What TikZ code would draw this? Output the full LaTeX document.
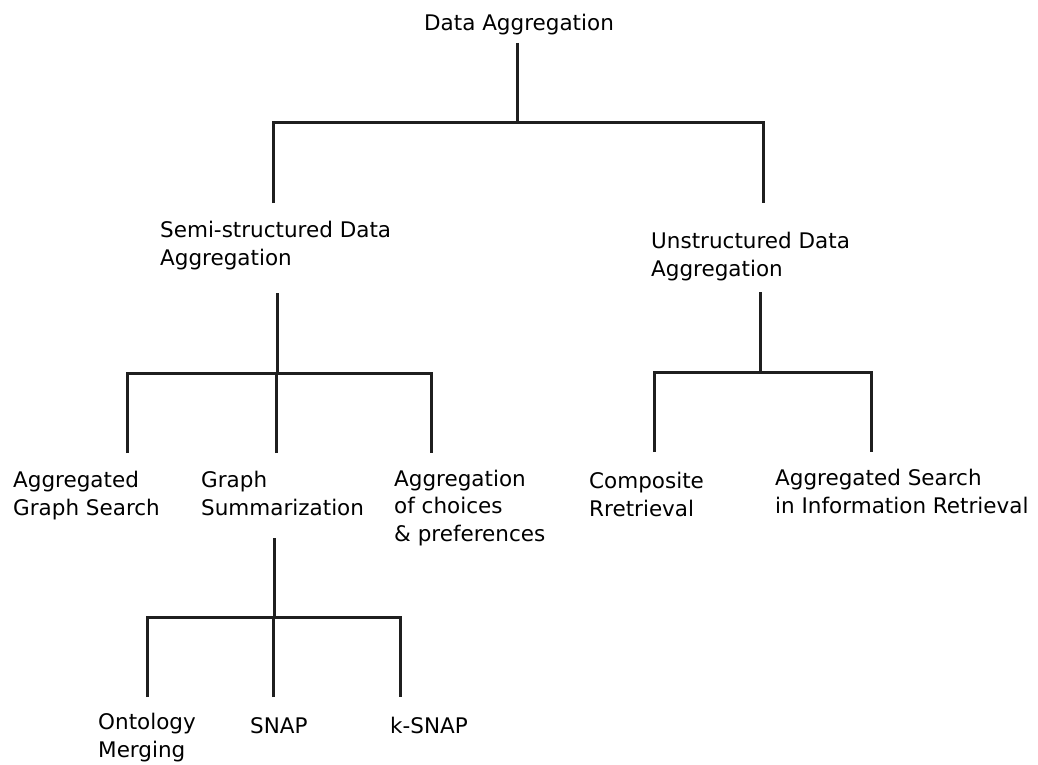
\documentclass[tikz,border=0pt]{standalone}
\usepackage{fontspec}
\setmainfont{DejaVu Sans}

\begin{document}
\begin{tikzpicture}[x=1pt,y=-1pt,
                    lbl/.style={anchor=base west,align=left,inner sep=0pt,
                                font=\fontsize{21.5}{27.5}\selectfont},
                    branch/.style={draw=black!88,line width=3pt,line join=miter}]
  \useasboundingbox (0,0) rectangle (1038,765);
  % labels (base = baseline of the last line)
  \node[lbl,anchor=base] (root) at (519,31) {Data Aggregation};
  \node[lbl] (semi) at (160,265) {Semi-structured Data\\Aggregation};
  \node[lbl] (unstr) at (651,276) {Unstructured Data\\Aggregation};
  \node[lbl] (gsearch) at (13,515) {Aggregated\\Graph Search};
  \node[lbl] (gsumm) at (201,515) {Graph\\Summarization};
  \node[lbl] (choices) at (394,541) {Aggregation\\of choices\\\& preferences};
  \node[lbl] (composite) at (589,516) {Composite\\Rretrieval};
  \node[lbl] (asearch) at (775,513) {Aggregated Search\\in Information Retrieval};
  \node[lbl] (onto) at (98,757) {Ontology\\Merging};
  \node[lbl] (snap) at (250,733) {SNAP};
  \node[lbl] (ksnap) at (390,733) {k-SNAP};
  % connector ends
  \coordinate (root-out) at (517,43);
  \coordinate (semi-in) at (273,203);
  \coordinate (semi-out) at (277,293);
  \coordinate (unstr-in) at (763,203);
  \coordinate (unstr-out) at (760,292);
  \coordinate (gsearch-in) at (127,453);
  \coordinate (gsumm-in) at (276,453);
  \coordinate (gsumm-out) at (274,538);
  \coordinate (choices-in) at (431,453);
  \coordinate (composite-in) at (654,452);
  \coordinate (asearch-in) at (871,452);
  \coordinate (onto-in) at (147,697);
  \coordinate (snap-in) at (273,697);
  \coordinate (ksnap-in) at (400,697);
  % brackets
  \draw[branch] (semi-in) -- ++(0,-80) -| (unstr-in);
  \draw[branch] (gsearch-in) -- ++(0,-80) -| (choices-in);
  \draw[branch] (composite-in) -- ++(0,-80) -| (asearch-in);
  \draw[branch] (onto-in) -- ++(0,-80) -| (ksnap-in);
  \foreach \p in {root-out,semi-out,unstr-out,gsumm-out}{
    \draw[branch] (\p) -- ++(0,80);
  }
  \foreach \c in {gsumm-in,snap-in}{
    \draw[branch] (\c) -- ++(0,-80);
  }
\end{tikzpicture}
\end{document}
